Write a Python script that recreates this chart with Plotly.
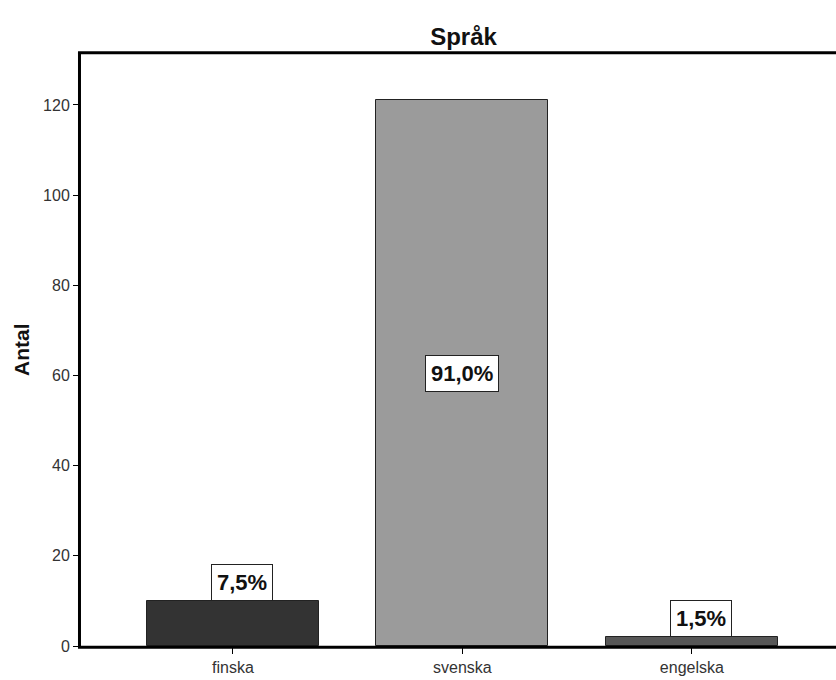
import plotly.graph_objects as go

# Language distribution (counts per category)
categories = ["finska", "svenska", "engelska"]
counts = [10, 121, 2]
bar_colors = ["#333333", "#9b9b9b", "#575757"]
y_ticks = [0, 20, 40, 60, 80, 100, 120]

total = sum(counts)
pct_labels = [f"{c / total * 100:.1f}%".replace(".", ",") for c in counts]

FONT = "Liberation Sans, Arial, sans-serif"

fig = go.Figure()
fig.add_trace(go.Bar(
    x=list(range(len(categories))),
    y=counts,
    width=0.75,
    marker=dict(color=bar_colors, line=dict(color="#222222", width=1)),
    hoverinfo="skip",
))

# Percentage labels in white boxes: inside the tall bar, above the short ones
for i, (c, lab) in enumerate(zip(counts, pct_labels)):
    inside = c > 40
    fig.add_annotation(
        x=i, y=c / 2 if inside else c,
        xref="x", yref="y",
        text=f"<b>{lab}</b>",
        showarrow=False,
        xshift=0 if inside else 9,
        yanchor="middle" if inside else "bottom",
        font=dict(family=FONT, size=22, color="#111111"),
        bgcolor="white", bordercolor="#222222", borderwidth=1, borderpad=5,
    )

# Y-axis title
fig.add_annotation(
    x=0, y=0.5, xref="paper", yref="paper",
    xshift=-60, text="<b>Antal</b>", textangle=-90, showarrow=False,
    xanchor="center", yanchor="middle",
    font=dict(family=FONT, size=21, color="#111111"),
)

# Frame: left, bottom and top lines (the right side runs off the page)
frame = dict(color="black", width=3)
fig.add_shape(type="line", xref="paper", yref="paper",
              x0=-0.002, x1=-0.002, y0=-0.003, y1=1.003, line=frame)
fig.add_shape(type="line", xref="paper", yref="paper",
              x0=-0.004, x1=1.05, y0=-0.002, y1=-0.002, line=frame)
fig.add_shape(type="line", xref="paper", yref="paper",
              x0=-0.004, x1=1.05, y0=1.002, y1=1.002, line=frame)

fig.update_layout(
    width=836, height=680,
    margin=dict(l=81, r=0, t=54, b=34),
    paper_bgcolor="white", plot_bgcolor="white",
    showlegend=False,
    title=dict(text="<b>Språk</b>", x=(81 + 846) / 2 / 836, xanchor="center",
               y=1 - 37 / 680, yanchor="middle",
               font=dict(family=FONT, size=24, color="#111111")),
    font=dict(family=FONT, size=16, color="#333333"),
    bargap=0,
)
fig.update_xaxes(
    range=[-0.662, 2.628],
    tickvals=list(range(len(categories))), ticktext=categories,
    ticks="outside", ticklen=7, tickwidth=1, tickcolor="black",
    showline=False, showgrid=False, zeroline=False,
    tickfont=dict(family=FONT, size=16, color="#333333"),
)
fig.update_yaxes(
    range=[0, 131.3],
    tickvals=y_ticks,
    ticks="outside", ticklen=7, tickwidth=1, tickcolor="black",
    showline=False, showgrid=False, zeroline=False,
    tickfont=dict(family=FONT, size=16, color="#333333"),
)

fig.write_html("out.html")
